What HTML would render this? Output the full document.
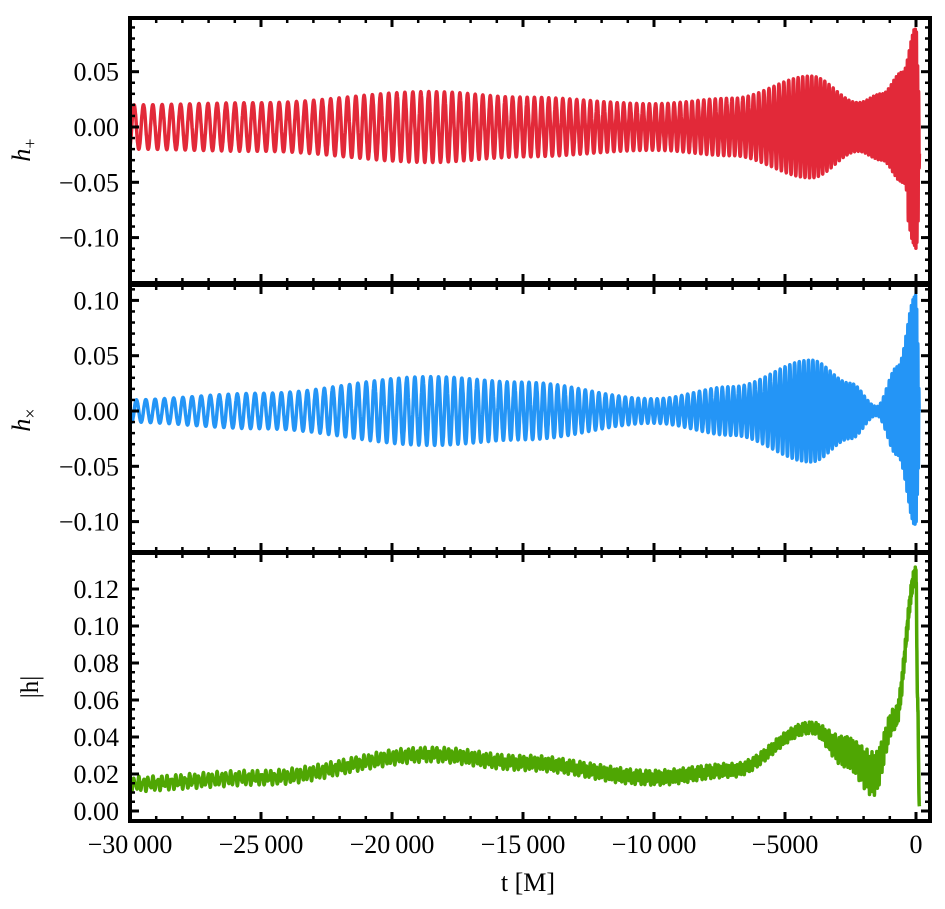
<!DOCTYPE html>
<html><head><meta charset="utf-8"><style>
body{margin:0;background:#fff}
svg{display:block;font-family:"Liberation Serif",serif}
</style></head><body>
<svg id="s" width="945" height="909" viewBox="0 0 945 909" xmlns="http://www.w3.org/2000/svg"></svg>
<script>
const S=document.getElementById('s');
const NS='http://www.w3.org/2000/svg';
function el(t,a,txt){const e=document.createElementNS(NS,t);for(const k in a)e.setAttribute(k,a[k]);if(txt!==undefined)e.textContent=txt;S.appendChild(e);return e;}
const X0=130,X1=930;
const tx=t=>916+t*131/5000;
const panels=[
 {top:18,bot:283,y0:127,k:55.3/0.05,ticks:[0.05,0,-0.05,-0.10],minor:0.01,col:'#e22939'},
 {top:285,bot:552,y0:411,k:55.3/0.05,ticks:[0.10,0.05,0,-0.05,-0.10],minor:0.01,col:'#2495f6'},
 {top:553,bot:821,y0:811,k:37/0.02,ticks:[0.12,0.10,0.08,0.06,0.04,0.02,0],minor:0.005,col:'#4fa603'}
];
function interp(kn,t){for(let i=0;i<kn.length-1;i++){if(t<=kn[i+1][0]){const a=kn[i],b=kn[i+1];let u=(t-a[0])/(b[0]-a[0]);u=(1-Math.cos(Math.PI*u))/2;return a[1]+(b[1]-a[1])*u;}}return kn[kn.length-1][1];}
const Ap=[[-30200,0.02],[-25000,0.022],[-18500,0.032],[-15000,0.027],[-10000,0.021],[-7000,0.026],[-4000,0.046],[-2200,0.022],[-1300,0.03],[-500,0.05],[0,0.09],[80,0.05],[130,0]];
const Ax=[[-30200,0.01],[-25000,0.016],[-18500,0.031],[-15000,0.026],[-10000,0.011],[-7000,0.022],[-4000,0.046],[-2500,0.025],[-1500,0.004],[-700,0.04],[0,0.105],[80,0.06],[130,0]];
const Am=[[-30200,0.0145],[-25000,0.018],[-18500,0.0305],[-15000,0.026],[-10000,0.018],[-7000,0.022],[-4000,0.045],[-2700,0.032],[-1600,0.02],[-800,0.05],[0,0.128],[60,0.06],[130,0.002]];
const Aw=[[-30200,0.0028],[-10000,0.0028],[-4000,0.0022],[-2500,0.006],[-1700,0.008],[-800,0.004],[0,0.003],[130,0.001]];
let ph=0,dt=4;const f0=1/360;
const P=[[],[],[]];
for(let t=-30200;t<=130;t+=dt){
 const f=t<0?f0*Math.pow(30100/(100-t),3/8):f0*Math.pow(30100/100,3/8);
 ph+=2*Math.PI*f*dt;
 const x=tx(t);
 const skew=t>-300?(t>0?0.035:0.02):0;
 const c=Math.cos(ph);
 const hp=interp(Ap,t)*c-(c<0?skew*Math.abs(c):0);
 const hx=interp(Ax,t)*Math.sin(ph);
 const hm=interp(Am,t)+interp(Aw,t)*(Math.cos(2*ph)+0.5*Math.cos(3.3*ph));
 [hp,hx,hm].forEach((v,i)=>{const p=panels[i];P[i].push(x.toFixed(1)+','+(p.y0-v*p.k).toFixed(1));});
}
panels.forEach((p,i)=>{
 const cid='c'+i;
 const cp=el('clipPath',{id:cid});const r=document.createElementNS(NS,'rect');cp.appendChild(r);
 r.setAttribute('x',X0);r.setAttribute('y',p.top);r.setAttribute('width',X1-X0);r.setAttribute('height',p.bot-p.top);
 el('polyline',{points:P[i].join(' '),fill:'none',stroke:p.col,'stroke-width':3.5,'stroke-linejoin':'round','clip-path':'url(#'+cid+')'});
 const vmin=(p.y0-p.bot)/p.k, vmax=(p.y0-p.top)/p.k;
 for(let v=Math.ceil(vmin/p.minor)*p.minor;v<=vmax;v+=p.minor){
  const y=p.y0-v*p.k;if(y<p.top+2||y>p.bot-2)continue;
  el('line',{x1:X0,x2:X0+5,y1:y,y2:y,stroke:'#000','stroke-width':2.5});
  el('line',{x1:X1,x2:X1-5,y1:y,y2:y,stroke:'#000','stroke-width':2.5});
 }
 p.ticks.forEach(v=>{const y=p.y0-v*p.k;
  el('line',{x1:X0,x2:X0+9,y1:y,y2:y,stroke:'#000','stroke-width':3});
  el('line',{x1:X1,x2:X1-9,y1:y,y2:y,stroke:'#000','stroke-width':3});
  const s=(v<0?'\u2212':'')+Math.abs(v).toFixed(2);
  el('text',{x:119,y:y+9,'text-anchor':'end','font-size':26},s);
 });
 for(let t=-30000;t<=0;t+=1000){const x=tx(t);const L=t%5000==0?9:5;
  el('line',{x1:x,x2:x,y1:p.top,y2:p.top+L,stroke:'#000','stroke-width':t%5000==0?3:2.5});
  el('line',{x1:x,x2:x,y1:p.bot,y2:p.bot-L,stroke:'#000','stroke-width':t%5000==0?3:2.5});}
 el('rect',{x:X0,y:p.top,width:X1-X0,height:p.bot-p.top,fill:'none',stroke:'#000','stroke-width':4});
});
let t1=el('text',{x:0,y:0,'font-size':26,transform:'translate(30,150) rotate(-90)','text-anchor':'middle'});
t1.innerHTML='<tspan font-style="italic">h</tspan><tspan font-size="18" dy="6">+</tspan>';
let t2=el('text',{x:0,y:0,'font-size':26,transform:'translate(30,420) rotate(-90)','text-anchor':'middle'});
t2.innerHTML='<tspan font-style="italic">h</tspan><tspan font-size="18" dy="6">\u00d7</tspan>';
el('text',{x:0,y:0,'font-size':25,transform:'translate(38,687) rotate(-90)','text-anchor':'middle'},'|h|');
[[-30000,'\u221230\u2009000'],[-25000,'\u221225\u2009000'],[-20000,'\u221220\u2009000'],[-15000,'\u221215\u2009000'],[-10000,'\u221210\u2009000'],[-5000,'\u22125000'],[0,'0']].forEach(([t,s])=>{
 el('text',{x:tx(t),y:853,'text-anchor':'middle','font-size':26},s);});
el('text',{x:528,y:891,'text-anchor':'middle','font-size':26},'t [M]');
</script>
</body></html>
